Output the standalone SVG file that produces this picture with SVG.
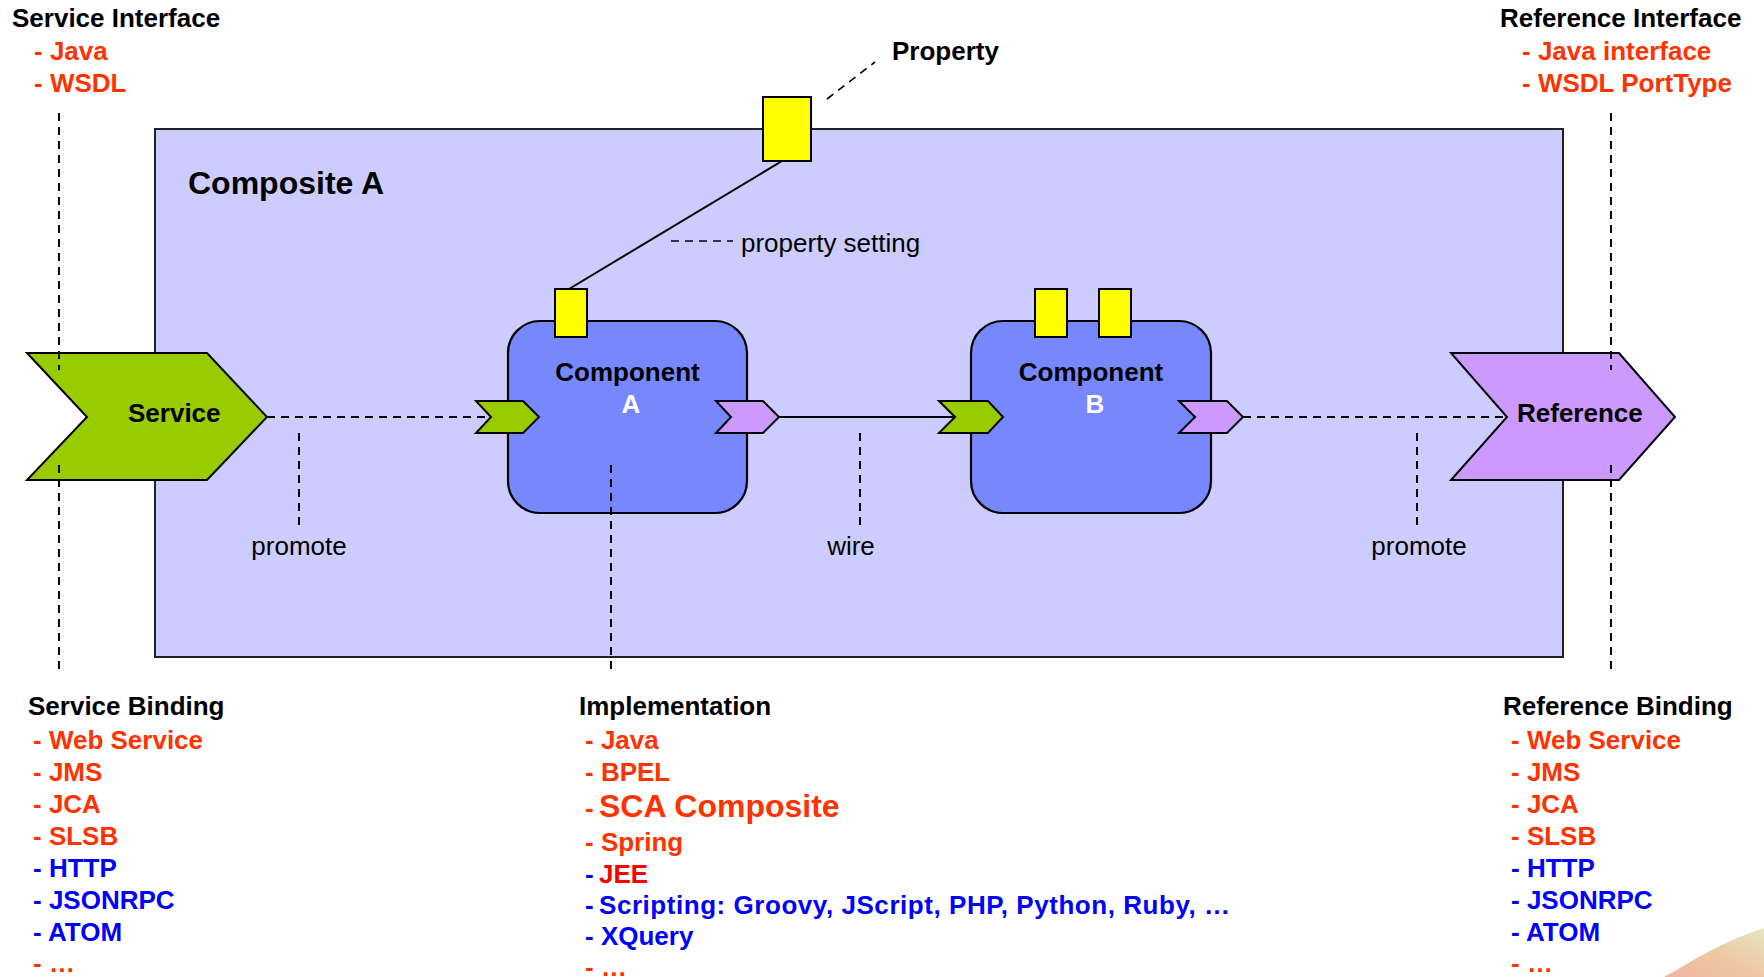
<svg xmlns="http://www.w3.org/2000/svg" width="1764" height="977" viewBox="0 0 1764 977">
  <defs>
    <style>
      text { font-family: "Liberation Sans", Arial, sans-serif; }
      .h { font-weight: bold; font-size: 26px; fill: #000; }
      .it { font-weight: bold; font-size: 26px; }
      .big { font-weight: bold; font-size: 32px; }
      .red { fill: #FF3300; }
      .pure { fill: #FF0000; }
      .blue { fill: #0000FF; }
      .note { font-size: 26px; fill: #000; }
      .white { fill: #FFFFFF; }
      .dash { stroke: #000; stroke-width: 2; stroke-dasharray: 8 6; fill: none; }
      .thin { stroke: #000; stroke-width: 1.6; stroke-dasharray: 8 6; fill: none; }
      .solid { stroke: #000; stroke-width: 2; fill: none; }
      .composite { fill: #CCCCFF; stroke: #222; stroke-width: 2; }
      .comp { fill: #7788FF; stroke: #000; stroke-width: 2.2; }
      .svc { fill: #99CC00; stroke: #000; stroke-width: 2; }
      .ref { fill: #CC99FF; stroke: #000; stroke-width: 2; }
      .prop { fill: #FFFF00; stroke: #000; stroke-width: 2; }
    </style>
    <linearGradient id="swoosh" x1="0" y1="1" x2="1" y2="0">
      <stop offset="0" stop-color="#E8957C"/>
      <stop offset="0.5" stop-color="#E6B07A"/>
      <stop offset="1" stop-color="#DADBA8"/>
    </linearGradient>
  </defs>

  <rect width="1764" height="977" fill="#FFFFFF"/>

  <!-- corner decoration -->
  <path d="M1664,977 C1692,962 1716,944 1764,928 L1764,977 Z" fill="url(#swoosh)" opacity="0.7"/>

  <!-- composite container -->
  <g id="composite">
    <rect class="composite" x="155" y="129" width="1408" height="528"/>
    <text x="188" y="194" font-weight="bold" font-size="32">Composite A</text>
  </g>

  <!-- components -->
  <g id="componentA">
    <rect class="comp" x="508" y="321" width="239" height="192" rx="32"/>
    <text class="h" x="627.5" y="381" text-anchor="middle">Component</text>
    <text class="h white" x="631" y="413" text-anchor="middle">A</text>
    <rect class="prop" x="555" y="289" width="32" height="48"/>
    <polygon class="svc" points="476,401 523,401 539,417 523,433 476,433 491,417"/>
    <polygon class="ref" points="716,401 763,401 779,417 763,433 716,433 731,417"/>
  </g>

  <g id="componentB">
    <rect class="comp" x="971" y="321" width="240" height="192" rx="32"/>
    <text class="h" x="1091" y="381" text-anchor="middle">Component</text>
    <text class="h white" x="1095" y="413" text-anchor="middle">B</text>
    <rect class="prop" x="1035" y="289" width="32" height="48"/>
    <rect class="prop" x="1099" y="289" width="32" height="48"/>
    <polygon class="svc" points="939,401 988,401 1003,417 988,433 939,433 955,417"/>
    <polygon class="ref" points="1179,401 1227,401 1243,417 1227,433 1179,433 1195,417"/>
  </g>

  <!-- promoted service and reference -->
  <g id="service">
    <polygon class="svc" points="27,353 207,353 267,417 207,480 27,480 87,417"/>
    <text class="h" x="128" y="422">Service</text>
  </g>

  <g id="reference">
    <polygon class="ref" points="1451,353 1619,353 1675,417 1619,480 1451,480 1507,417"/>
    <text class="h" x="1517" y="422">Reference</text>
  </g>

  <g id="property">
    <rect class="prop" x="763" y="97" width="48" height="64"/>
    <text class="h" x="892" y="60">Property</text>
  </g>

  <!-- connectors and leader lines -->
  <g id="connectors">
    <line class="dash" x1="267" y1="417" x2="491" y2="417"/>
    <line class="solid" x1="779" y1="417" x2="955" y2="417"/>
    <line class="dash" x1="1243" y1="417" x2="1507" y2="417"/>
    <line class="solid" x1="782" y1="161" x2="569" y2="289"/>

    <line class="thin" x1="827" y1="99" x2="875" y2="62"/>
    <line class="thin" x1="671" y1="241" x2="733" y2="241"/>

    <line class="dash" x1="59" y1="113" x2="59" y2="370"/>
    <line class="dash" x1="59" y1="465" x2="59" y2="672"/>
    <line class="dash" x1="1611" y1="113" x2="1611" y2="370"/>
    <line class="dash" x1="1611" y1="465" x2="1611" y2="672"/>

    <line class="dash" x1="299" y1="433" x2="299" y2="525"/>
    <line class="dash" x1="860" y1="433" x2="860" y2="525"/>
    <line class="dash" x1="1417" y1="433" x2="1417" y2="525"/>
    <line class="dash" x1="611" y1="465" x2="611" y2="672"/>
  </g>

  <!-- connector labels -->
  <g id="connector-labels">
    <text class="note" x="741" y="252">property setting</text>
    <text class="note" x="299" y="555" text-anchor="middle">promote</text>
    <text class="note" x="851" y="555" text-anchor="middle">wire</text>
    <text class="note" x="1419" y="555" text-anchor="middle">promote</text>
  </g>

  <!-- service interface -->
  <g id="service-interface">
    <text class="h" x="12" y="27">Service Interface</text>
    <text class="it red" x="34" y="60">- Java</text>
    <text class="it red" x="34" y="92">- WSDL</text>
  </g>

  <!-- reference interface -->
  <g id="reference-interface">
    <text class="h" x="1500" y="27">Reference Interface</text>
    <text class="it red" x="1522" y="60">- Java interface</text>
    <text class="it red" x="1522" y="92">- WSDL PortType</text>
  </g>

  <!-- service binding -->
  <g id="service-binding">
    <text class="h" x="28" y="715">Service Binding</text>
    <text class="it red" x="33" y="749">- Web Service</text>
    <text class="it red" x="33" y="781">- JMS</text>
    <text class="it red" x="33" y="813">- JCA</text>
    <text class="it red" x="33" y="845">- SLSB</text>
    <text class="it blue" x="33" y="877">- HTTP</text>
    <text class="it blue" x="33" y="909">- JSONRPC</text>
    <text class="it blue" x="33" y="941">- ATOM</text>
    <text class="it red" x="33" y="972">- …</text>
  </g>

  <!-- implementation -->
  <g id="implementation">
    <text class="h" x="579" y="715">Implementation</text>
    <text class="it red" x="585" y="749">- Java</text>
    <text class="it red" x="585" y="781">- BPEL</text>
    <text class="it red" x="585" y="817">-</text>
    <text class="big red" x="599" y="817">SCA Composite</text>
    <text class="it red" x="585" y="851">- Spring</text>
    <text class="it blue" x="585" y="883">-</text>
    <text class="it pure" x="599" y="883">JEE</text>
    <text class="it blue" x="585" y="914">-</text>
    <text class="it blue" x="599" y="914" textLength="631" lengthAdjust="spacing">Scripting: Groovy, JScript, PHP, Python, Ruby,  …</text>
    <text class="it blue" x="585" y="945">- XQuery</text>
    <text class="it red" x="585" y="976">- …</text>
  </g>

  <!-- reference binding -->
  <g id="reference-binding">
    <text class="h" x="1503" y="715">Reference Binding</text>
    <text class="it red" x="1511" y="749">- Web Service</text>
    <text class="it red" x="1511" y="781">- JMS</text>
    <text class="it red" x="1511" y="813">- JCA</text>
    <text class="it red" x="1511" y="845">- SLSB</text>
    <text class="it blue" x="1511" y="877">- HTTP</text>
    <text class="it blue" x="1511" y="909">- JSONRPC</text>
    <text class="it blue" x="1511" y="941">- ATOM</text>
    <text class="it red" x="1511" y="972">- …</text>
  </g>
</svg>
